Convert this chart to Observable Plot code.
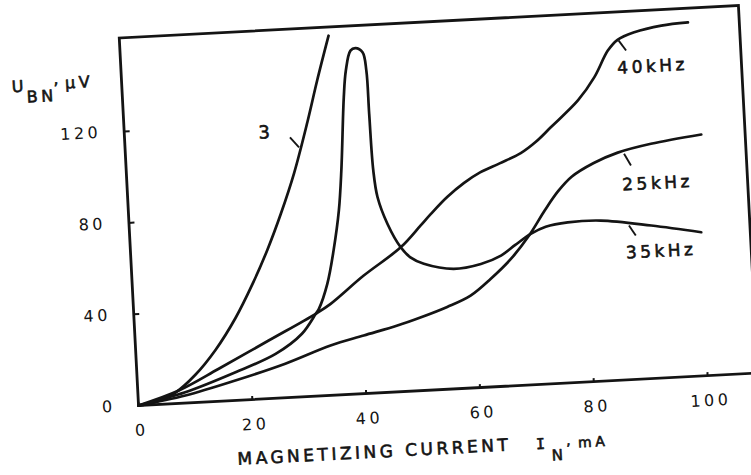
<!DOCTYPE html>
<html>
<head>
<meta charset="utf-8">
<script src="https://cdn.jsdelivr.net/npm/d3@7"></script>
<script src="https://cdn.jsdelivr.net/npm/@observablehq/plot@0.6"></script>
<style>
  html, body { margin: 0; padding: 0; background: #fff; overflow: hidden; width: 751px; height: 475px; }
  #chart { position: absolute; left: 0; top: 0; width: 768px; height: 475px; }
  #chart svg { max-width: none !important; width: 768px; height: 475px; transform-origin: 138px 405px; transform: rotate(-3deg); }
  #chart svg text { letter-spacing: 3.5px; }
</style>
</head>
<body>
<div id="chart"></div>
<script>
// Magnetizing current I_N (mA) vs U_BN (µV)
const curve3 = [[0,0],[3.0,1.1],[6.6,4.8],[10.2,12.0],[14.0,22.5],[17.8,36.0],[21.1,50.5],[24.0,65.0],[26.7,80.5],[29.4,98.0],[32.2,120.0],[34.3,138.0],[36.7,157.2]];
const khz40 = [[0,0],[7.2,5.6],[14.4,14.2],[23.4,25.4],[31.9,36.0],[34.6,40.0],[40.6,51.5],[47.4,63.1],[51.1,72.2],[53.0,77.0],[56.0,84.0],[59.1,89.8],[62.0,94.0],[65.5,97.5],[69.3,101.5],[72.0,106.0],[74.8,112.1],[79.8,123.2],[82.9,133.0],[85.5,144.3],[87.3,148.8],[90.3,151.7],[95.1,154.0],[99.8,154.8]];
const khz35 = [[0,0],[8.3,4.7],[17.3,12.3],[24.5,19.4],[29.3,27.6],[31.9,36.0],[32.5,38.1],[34.2,48.8],[35.6,63.2],[36.9,80.6],[37.7,98.0],[38.8,129.9],[39.4,141.5],[40.4,150.2],[41.3,151.2],[42.5,149.2],[43.0,141.1],[43.1,122.1],[43.3,97.3],[43.8,85.5],[45.3,73.6],[47.4,63.1],[49.0,58.5],[51.3,55.4],[56.5,52.5],[61.3,54.0],[64.9,57.2],[67.5,61.5],[70.3,66.0],[73.0,68.8],[76.9,70.2],[82.7,70.2],[91.5,66.9],[100.2,62.8]];
const khz25 = [[0,0],[8.3,3.3],[17.2,8.7],[26.1,14.9],[34.2,21.8],[40.1,25.4],[46.1,29.0],[50.2,32.0],[55.0,36.0],[59.2,40.4],[62.9,47.3],[66.6,55.5],[70.0,65.3],[73.0,76.0],[75.5,84.0],[78.0,90.0],[82.0,95.5],[86.3,99.5],[92.2,102.6],[101.1,105.5]];

const xTicks = [0, 20, 40, 60, 80, 100];
const yTicks = [0, 40, 80, 120];

const seriesNames = ["3", "40kHz", "25kHz", "35kHz"];
const seriesData = [curve3, khz40, khz25, khz35];
// label anchor (mA, µV) and leader line from curve to label
const labelX = [23.5, 87.0, 86.8, 86.8];
const labelY = [113.8, 134.0, 82.8, 53.0];
const leaderFrom = [[30.5,109.1],[87.5,148.4],[87.4,98.9],[87.6,67.4]];
const leaderTo = [[29.0,113.7],[88.7,143.9],[88.5,93.6],[88.7,62.9]];

const rows = seriesNames.flatMap((s, i) => seriesData[i].map(([x, y]) => ({series: s, x, y})));
const labels = seriesNames.map((s, i) => ({text: s, x: labelX[i], y: labelY[i], big: s === "3"}));
const leaders = seriesNames.map((s, i) => ({x1: leaderFrom[i][0], y1: leaderFrom[i][1], x2: leaderTo[i][0], y2: leaderTo[i][1]}));

const ink = "#141414";
const font = "DejaVu Sans";
const txt = {fill: ink, stroke: ink, strokeWidth: 0.6};

const plot = Plot.plot({
  width: 768,
  height: 475,
  marginLeft: 138,
  marginRight: 10,
  marginTop: 37,
  marginBottom: 70,
  x: {domain: [0, 108.8]},
  y: {domain: [0, 161]},
  style: {fontFamily: font, background: "transparent", color: ink, overflow: "visible"},
  marks: [
    Plot.frame({stroke: ink, strokeWidth: 2.8}),
    Plot.axisY(yTicks, {tickSize: -6, tickFormat: () => "", strokeWidth: 2, label: null}),
    Plot.axisY(yTicks, {tickSize: 0, tickPadding: 23, fontSize: 16, label: null, ...txt}),
    Plot.axisX(xTicks, {tickSize: -3, tickFormat: () => "", strokeWidth: 2, label: null}),
    Plot.axisX(xTicks, {tickSize: 0, tickPadding: 19, fontSize: 16, dx: 2, label: null, ...txt}),
    Plot.line(rows, {x: "x", y: "y", z: "series", curve: "catmull-rom", stroke: ink, strokeWidth: 2.7}),
    Plot.link(leaders, {x1: "x1", y1: "y1", x2: "x2", y2: "y2", stroke: ink, strokeWidth: 1.9}),
    Plot.text(labels, {x: "x", y: "y", text: "text", textAnchor: "start", lineAnchor: "bottom", fontSize: d => d.big ? 18 : 17, ...txt}),
    // y-axis title: U_BN, µV
    Plot.text(["U"], {frameAnchor: "top-left", dx: -110, dy: 48.7, textAnchor: "start", lineAnchor: "bottom", fontSize: 16, ...txt}),
    Plot.text(["BN"], {frameAnchor: "top-left", dx: -95.5, dy: 59.5, textAnchor: "start", lineAnchor: "bottom", fontSize: 16, ...txt}),
    Plot.text([","], {frameAnchor: "top-left", dx: -68, dy: 43, textAnchor: "start", lineAnchor: "bottom", fontSize: 16, ...txt}),
    Plot.text(["μV"], {frameAnchor: "top-left", dx: -56.6, dy: 47.7, textAnchor: "start", lineAnchor: "bottom", fontSize: 16, ...txt}),
    // x-axis title: MAGNETIZING CURRENT I_N, mA
    Plot.text(["MAGNETIZING CURRENT"], {frameAnchor: "bottom-left", dx: 96, dy: 64.5, textAnchor: "start", lineAnchor: "bottom", fontSize: 17, ...txt}),
    Plot.text(["I"], {frameAnchor: "bottom-left", dx: 395, dy: 64.5, textAnchor: "start", lineAnchor: "bottom", fontSize: 15, fontFamily: "DejaVu Sans Mono", ...txt}),
    Plot.text(["N"], {frameAnchor: "bottom-left", dx: 410, dy: 76.5, textAnchor: "start", lineAnchor: "bottom", fontSize: 15, ...txt}),
    Plot.text([","], {frameAnchor: "bottom-left", dx: 425, dy: 62, textAnchor: "start", lineAnchor: "bottom", fontSize: 14, ...txt}),
    Plot.text(["mA"], {frameAnchor: "bottom-left", dx: 437, dy: 65, textAnchor: "start", lineAnchor: "bottom", fontSize: 14, ...txt})
  ]
});
document.getElementById("chart").appendChild(plot);
</script>
</body>
</html>
